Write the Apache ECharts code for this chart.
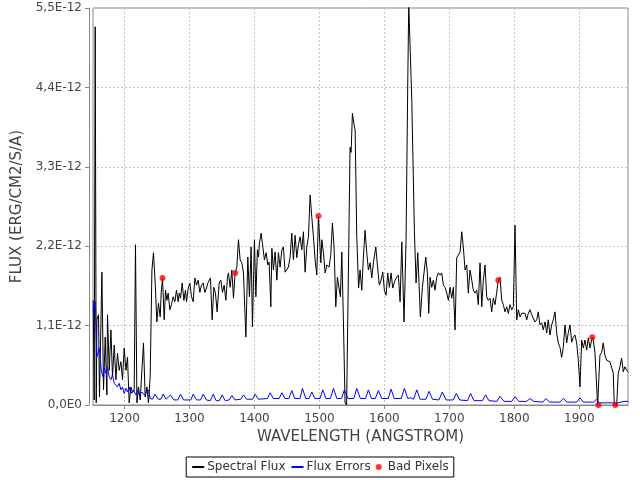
<!DOCTYPE html>
<html><head><meta charset="utf-8">
<script src="https://cdn.jsdelivr.net/npm/echarts@6/dist/echarts.min.js"></script>
<style>html,body{margin:0;padding:0;background:#fff}#c{width:640px;height:480px}</style>
</head><body><div id="c"></div>
<script>
// Flux values are in units of 1e-12 erg/cm2/s/A; wavelengths in Angstrom
const FLUX_UNIT = 1e-12;
const spectralFlux = [
[1151.8,1.45],[1153.4,0.07],[1154.9,5.24],[1156.5,0.03],[1157.5,1.18],[1160.0,1.25],[1161.5,0.11],[1165.2,1.84],[1167.7,0.21],[1170.3,0.94],
[1172.9,0.14],[1173.8,1.25],[1176.5,0.48],[1179.1,1.04],[1181.5,0.39],[1184.2,0.83],[1186.8,0.35],[1189.2,0.72],[1191.8,0.48],[1194.5,0.60],
[1196.9,0.35],[1199.5,0.79],[1202.2,0.48],[1204.6,0.66],[1207.2,0.03],[1209.8,0.25],[1212.3,0.17],[1214.9,0.21],[1216.9,2.22],[1219.1,0.03],
[1221.5,0.25],[1224.2,0.07],[1226.8,0.48],[1229.2,0.86],[1231.8,0.11],[1234.5,0.25],[1236.9,0.03],[1239.5,0.39],[1242.2,1.87],[1244.6,2.11],
[1247.2,1.69],[1249.8,1.15],[1252.3,1.41],[1254.9,1.22],[1256.5,1.56],[1258.5,1.76],[1261.1,1.18],[1263.1,1.59],[1265.2,1.45],[1267.2,1.55],
[1269.8,1.32],[1272.3,1.39],[1274.9,1.50],[1277.5,1.43],[1280.0,1.59],[1282.6,1.43],[1284.2,1.55],[1286.2,1.48],[1288.8,1.69],[1291.4,1.45],
[1293.8,1.59],[1295.4,1.43],[1298.0,1.62],[1300.6,1.69],[1303.1,1.50],[1305.7,1.43],[1308.3,1.76],[1310.8,1.66],[1313.4,1.73],[1316.0,1.56],
[1318.5,1.66],[1321.1,1.69],[1323.7,1.56],[1326.2,1.62],[1328.8,1.70],[1332.3,1.76],[1334.9,1.18],[1337.5,1.63],[1340.0,1.55],[1342.6,1.29],
[1345.7,1.69],[1348.3,1.73],[1350.8,1.56],[1353.4,1.66],[1356.0,1.45],[1358.5,1.77],[1360.0,1.83],[1362.6,1.63],[1365.2,1.87],[1367.7,1.48],
[1370.3,1.83],[1372.9,1.91],[1375.4,2.29],[1378.0,2.01],[1380.6,1.97],[1383.1,1.83],[1386.8,0.94],[1389.8,2.05],[1392.3,1.50],[1394.9,2.19],
[1396.9,1.08],[1400.0,2.29],[1402.2,1.50],[1404.6,2.15],[1406.2,2.05],[1407.7,2.24],[1410.3,2.38],[1412.9,2.40],[1415.4,2.01],[1418.0,2.11],
[1420.6,1.94],[1422.6,1.98],[1425.2,1.36],[1426.8,2.17],[1429.2,1.87],[1431.8,2.12],[1434.5,1.73],[1436.9,2.11],[1439.5,1.91],[1442.2,2.15],
[1444.6,2.19],[1447.2,1.84],[1449.9,1.83],[1452.3,1.91],[1454.9,2.05],[1457.5,2.38],[1460.0,2.01],[1462.6,2.35],[1465.2,2.04],[1467.7,2.22],
[1470.3,2.33],[1472.9,2.15],[1475.4,2.40],[1478.0,1.84],[1480.6,2.19],[1483.1,2.33],[1485.7,2.91],[1488.3,2.60],[1490.8,2.33],[1493.4,2.01],
[1496.0,1.80],[1498.5,2.62],[1500.0,2.63],[1502.2,1.97],[1503.7,2.29],[1506.2,2.11],[1508.8,1.83],[1511.4,1.94],[1514.9,1.91],[1517.5,2.08],
[1520.0,2.52],[1522.6,2.19],[1525.2,1.36],[1527.7,1.77],[1530.3,1.77],[1532.3,1.50],[1534.5,2.12],[1536.9,1.18],[1539.5,0.03],[1541.9,0.00],
[1543.1,0.00],[1547.2,3.57],[1548.8,3.50],[1550.8,4.04],[1553.4,3.88],[1555.0,3.81],[1557.5,2.33],[1560.3,1.62],[1562.6,1.87],[1565.2,1.59],
[1567.7,2.05],[1570.3,2.42],[1572.9,2.11],[1575.4,1.87],[1578.0,1.97],[1580.6,1.76],[1583.1,1.97],[1586.8,2.19],[1589.9,1.87],[1592.3,1.66],
[1594.9,1.73],[1597.5,1.84],[1600.0,1.59],[1602.6,1.52],[1605.2,1.83],[1607.7,1.63],[1610.3,1.83],[1612.9,1.62],[1615.4,1.70],[1618.0,1.76],
[1621.5,1.80],[1624.2,1.43],[1626.8,2.26],[1630.3,1.15],[1633.4,2.29],[1636.0,4.46],[1637.5,5.56],[1640.0,5.56],[1642.2,4.22],[1646.2,2.42],
[1648.8,1.69],[1651.4,2.11],[1655.4,1.22],[1658.5,1.63],[1661.1,1.63],[1663.7,2.05],[1666.2,1.83],[1668.3,1.27],[1670.3,1.77],[1672.9,1.63],
[1675.4,1.73],[1678.0,1.59],[1680.6,1.77],[1683.1,1.83],[1685.7,1.80],[1688.3,1.83],[1690.8,1.66],[1693.4,1.63],[1696.0,1.55],[1698.5,1.45],
[1701.1,1.63],[1703.7,1.48],[1706.2,1.63],[1708.8,1.04],[1711.4,2.04],[1713.9,2.04],[1716.5,2.12],[1719.1,2.40],[1721.5,2.19],[1724.2,1.87],
[1726.8,1.94],[1729.2,1.55],[1731.8,1.87],[1734.5,1.73],[1736.9,1.59],[1739.5,1.55],[1742.2,1.59],[1744.6,1.39],[1747.2,1.97],[1749.9,1.36],
[1752.3,1.73],[1754.9,1.94],[1757.5,1.50],[1760.0,1.45],[1762.6,1.48],[1765.2,1.29],[1767.7,1.48],[1770.3,1.39],[1772.9,1.56],[1775.4,1.73],
[1778.0,1.77],[1780.6,1.45],[1783.1,1.39],[1785.7,1.29],[1788.3,1.36],[1790.8,1.27],[1793.4,1.39],[1796.0,1.32],[1798.5,1.36],[1801.1,2.49],
[1803.7,1.18],[1806.2,1.32],[1808.8,1.22],[1811.4,1.27],[1813.9,1.25],[1816.5,1.27],[1819.1,1.18],[1821.5,1.27],[1824.2,1.32],[1826.8,1.25],
[1829.2,1.27],[1831.8,1.15],[1834.5,1.18],[1836.9,1.29],[1839.5,1.11],[1842.2,1.14],[1844.6,1.04],[1847.2,1.15],[1849.9,1.00],[1852.3,1.18],
[1854.9,0.97],[1857.5,1.11],[1860.0,1.18],[1862.6,1.29],[1865.2,1.00],[1867.7,0.86],[1870.3,0.80],[1872.9,0.66],[1875.4,0.80],[1878.0,1.11],
[1880.6,0.86],[1883.1,1.00],[1885.7,1.11],[1888.3,0.87],[1890.8,0.94],[1893.4,0.97],[1896.0,0.86],[1898.5,0.62],[1901.1,0.25],[1903.7,0.90],
[1906.2,0.79],[1908.8,0.90],[1911.4,0.76],[1913.9,0.93],[1916.5,0.79],[1920.0,0.94],[1921.5,0.90],[1924.2,0.72],[1926.8,0.25],[1928.3,0.00],
[1930.8,0.00],[1931.8,0.69],[1934.5,0.73],[1936.9,0.86],[1939.5,0.69],[1942.2,0.62],[1944.6,0.60],[1947.2,0.60],[1949.9,0.58],[1952.3,0.44],
[1953.9,0.00],[1957.6,0.00],[1960.0,0.44],[1962.6,0.53],[1965.2,0.65],[1967.7,0.46],[1970.3,0.53],[1972.9,0.48],[1975.4,0.46]
];
const fluxErrors = [
[1151.8,1.30],[1154.9,1.43],[1157.5,0.67],[1161.5,0.79],[1164.2,0.48],[1166.8,0.39],[1168.8,0.51],[1171.4,0.44],[1173.8,0.53],[1176.5,0.39],
[1179.1,0.35],[1181.5,0.42],[1184.2,0.30],[1186.8,0.32],[1189.2,0.25],[1191.8,0.30],[1194.5,0.21],[1196.9,0.25],[1199.5,0.16],[1202.2,0.23],
[1204.6,0.18],[1207.2,0.25],[1209.8,0.16],[1213.8,0.21],[1217.5,0.14],[1220.0,0.21],[1222.6,0.14],[1226.8,0.18],[1230.3,0.14],[1233.4,0.17],
[1236.9,0.21],[1239.5,0.09],
[1243,0.08],[1246.8,0.15],[1252,0.08],[1256,0.08],[1259.5,0.15],[1264,0.08],[1267,0.07],[1270.8,0.14],[1276,0.07],[1282,0.07],[1286.2,0.15],[1291,0.07],
[1302,0.07],[1305.7,0.15],[1311,0.07],[1317,0.07],[1321.1,0.15],[1326,0.07],[1332,0.06],[1336.5,0.15],[1341,0.06],[1346,0.06],[1350.3,0.14],[1355,0.06],
[1361,0.07],[1365.2,0.13],[1370,0.07],[1379,0.08],[1383.1,0.14],[1388,0.08],[1397,0.08],[1401.1,0.15],[1406,0.08],[1420,0.09],[1424.2,0.17],[1429,0.09],
[1438,0.09],[1442.2,0.17],[1447,0.09],[1453,0.09],[1457.5,0.20],[1462,0.09],[1470,0.09],[1473.9,0.23],[1479,0.09],[1484,0.09],[1488.3,0.18],[1493,0.09],
[1501,0.09],[1505.2,0.21],[1510,0.09],[1517,0.09],[1521.5,0.23],[1527,0.09],[1534,0.09],[1538.5,0.21],[1544,0.09],[1553,0.09],[1557.5,0.23],[1563,0.09],
[1571,0.09],[1575.4,0.21],[1580,0.09],[1586,0.09],[1590.8,0.20],[1596,0.09],[1606,0.09],[1610.3,0.22],[1615,0.09],[1626,0.09],[1630.8,0.23],[1636,0.09],
[1640,0.10],[1642,0.09],[1645,0.08],[1649.9,0.21],[1655,0.08],[1664,0.08],[1668.8,0.19],[1674,0.08],[1684,0.07],[1689.2,0.18],[1695,0.07],
[1706,0.07],[1710.8,0.16],[1716,0.07],[1728,0.06],[1732.6,0.16],[1738,0.06],[1751,0.06],[1755.7,0.14],[1761,0.06],[1773,0.05],[1778,0.12],[1784,0.05],
[1796,0.05],[1801.1,0.115],[1807,0.05],[1819,0.05],[1824.2,0.09],[1830,0.05],[1844,0.04],[1848.8,0.09],[1854,0.04],[1870,0.04],[1875.4,0.09],[1881,0.04],
[1896,0.04],[1901.1,0.10],[1906,0.04],[1922,0.04],[1926.8,0.08],[1931,0.03],[1950,0.03],[1960,0.03],[1968,0.05],[1975.4,0.05]
];
const badPixels = [
[1258.5,1.76],[1370.3,1.83],[1498.5,2.62],[1775.4,1.73],[1920.0,0.94],[1929.5,0.00],[1955.5,0.00]
];
const seriesNames = ['Spectral Flux','Flux Errors','Bad Pixels'];
const xTitle = 'WAVELENGTH (ANGSTROM)';
const yTitle = 'FLUX (ERG/CM2/S/A)';
const xMin = 1151.5, xMax = 1975;
const yMax = 5.5, yStep = 1.1;

const toReal = arr => arr.map(p => [p[0], p[1] * FLUX_UNIT]);
const FONT = 'DejaVu Sans';
const fmtY = v => {
  const m = Math.round(v / FLUX_UNIT * 10) / 10;
  if (m === 0) return '0,0E0';
  return m.toFixed(1).replace('.', ',') + 'E-12';
};
const hiddenSymbol = {color: 'rgba(0,0,0,0)', borderWidth: 0, opacity: 0};

const chart = echarts.init(document.getElementById('c'), null, {renderer: 'canvas'});
chart.setOption({
  animation: false,
  backgroundColor: '#fff',
  grid: {left: 93, right: 12, top: 8, bottom: 75, show: true, borderColor: '#888', borderWidth: 1, backgroundColor: '#fff'},
  xAxis: {
    type: 'value', min: xMin, max: xMax, splitNumber: 8, offset: 4,
    name: xTitle, nameLocation: 'middle', nameGap: 19,
    nameTextStyle: {fontFamily: FONT, fontSize: 15, color: '#444'},
    axisLine: {show: true, lineStyle: {color: '#888', width: 1}},
    axisTick: {show: true, length: 4, lineStyle: {color: '#888'}},
    axisLabel: {fontFamily: FONT, fontSize: 12, color: '#444', margin: 4, showMinLabel: false, showMaxLabel: false,
      formatter: v => String(Math.round(v))},
    splitLine: {show: true, lineStyle: {color: '#c4c4c4', type: [2, 2], width: 1}}
  },
  yAxis: {
    type: 'value', min: 0, max: yMax * FLUX_UNIT, interval: yStep * FLUX_UNIT, offset: 4,
    name: yTitle, nameLocation: 'middle', nameGap: 61,
    nameTextStyle: {fontFamily: FONT, fontSize: 15, color: '#444'},
    axisLine: {show: true, lineStyle: {color: '#888', width: 1}},
    axisTick: {show: true, length: 4, lineStyle: {color: '#888'}},
    axisLabel: {fontFamily: FONT, fontSize: 12, color: '#444', margin: 7, formatter: fmtY},
    splitLine: {show: true, lineStyle: {color: '#c4c4c4', type: [2, 2], width: 1}}
  },
  legend: {
    bottom: 3, left: 'center', orient: 'horizontal',
    borderColor: '#000', borderWidth: 1, padding: [4, 5, 4, 5], itemGap: 5,
    itemWidth: 12, itemHeight: 6,
    textStyle: {fontFamily: FONT, fontSize: 12, color: '#333', padding: [0, 0, 0, -2]},
    data: [
      {name: seriesNames[0], itemStyle: hiddenSymbol},
      {name: seriesNames[1], itemStyle: hiddenSymbol},
      {name: seriesNames[2], icon: 'circle'}
    ]
  },
  series: [
    {name: seriesNames[0], type: 'line', data: toReal(spectralFlux), symbol: 'none', clip: true,
     lineStyle: {color: '#000', width: 1}, itemStyle: {color: '#000'}, z: 2},
    {name: seriesNames[1], type: 'line', data: toReal(fluxErrors), symbol: 'none', clip: true,
     lineStyle: {color: '#0000ff', width: 1}, itemStyle: {color: '#0000ff'}, z: 3},
    {name: seriesNames[2], type: 'scatter', data: toReal(badPixels), symbol: 'circle', symbolSize: 6, clip: true,
     itemStyle: {color: '#ff0000'}, z: 4}
  ]
});
</script></body></html>
